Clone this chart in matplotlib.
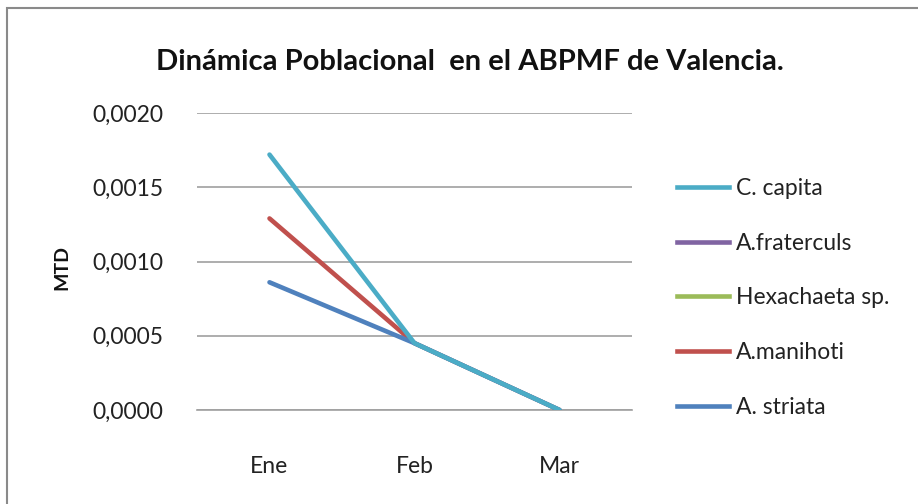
import numpy as np
import matplotlib
matplotlib.use("Agg")
import matplotlib.pyplot as plt
from matplotlib.patches import Rectangle
from matplotlib.lines import Line2D

plt.rcParams['font.family'] = ['Lato', 'DejaVu Sans']

months = ["Ene", "Feb", "Mar"]
series_names = ["C. capita", "A.fraterculs", "Hexachaeta sp.", "A.manihoti", "A. striata"]
c_capita = [0.00172, 0.00045, 0.0]
a_fraterculs = [np.nan, np.nan, np.nan]
hexachaeta = [np.nan, np.nan, np.nan]
a_manihoti = [0.00129, 0.00045, 0.0]
a_striata = [0.00086, 0.00045, 0.0]
yticks = [0.0, 0.0005, 0.0010, 0.0015, 0.0020]
ytick_labels = ["0,0000", "0,0005", "0,0010", "0,0015", "0,0020"]

colors = ["#4BACC6", "#8064A2", "#9BBB59", "#C0504D", "#4F81BD"]
data = [c_capita, a_fraterculs, hexachaeta, a_manihoti, a_striata]
zorders = [6, 2, 3, 4, 5]

fig = plt.figure(figsize=(9.18, 5.04), dpi=100)
fig.patches.append(Rectangle((0.008, -0.01), 1.0, 0.994, transform=fig.transFigure,
                             fill=False, edgecolor="#8a8a8a", linewidth=1.5))

ax = fig.add_axes([197/918, 1 - 410/504, 435/918, 297/504])
x = np.arange(len(months))
for name, vals, c, z in zip(series_names, data, colors, zorders):
    ax.plot(x, vals, color=c, linewidth=3.3, solid_capstyle='round', zorder=z, label=name)

ax.set_xlim(-0.5, 2.5)
ax.set_ylim(0, 0.0020)
ax.set_yticks(yticks)
ax.set_yticklabels(ytick_labels)
ax.set_xticks(x)
ax.set_xticklabels(months)
ax.tick_params(axis='both', length=0, labelsize=16.5, colors="#222222")
ax.tick_params(axis='x', pad=33)
ax.tick_params(axis='y', pad=24)
ax.grid(axis='y', color="#a0a0a0", linewidth=1.2, zorder=0)
ax.set_axisbelow(True)
for s in ["top", "right", "left"]:
    ax.spines[s].set_visible(False)
ax.spines["bottom"].set_color("#a0a0a0")
ax.spines["bottom"].set_linewidth(1.2)

fig.text(62/918, 1 - 268/504, "MTD", rotation=90, ha='center', va='center',
         fontsize=14, fontweight='bold', color="#111111")
fig.text(470/918, 1 - 62/504, "Dinámica Poblacional  en el ABPMF de Valencia.",
         ha='center', va='center', fontsize=21, fontweight='bold', color="#111111")

handles = [Line2D([0], [0], color=c, linewidth=3.3) for c in colors]
leg = fig.legend(handles, series_names, loc='upper left',
                 bbox_to_anchor=(656/918, 1 - 157/504), frameon=False,
                 fontsize=16.5, handlelength=2.3, handletextpad=0.3,
                 labelspacing=1.48, labelcolor="#222222")

fig.savefig("out.png", dpi=100)
